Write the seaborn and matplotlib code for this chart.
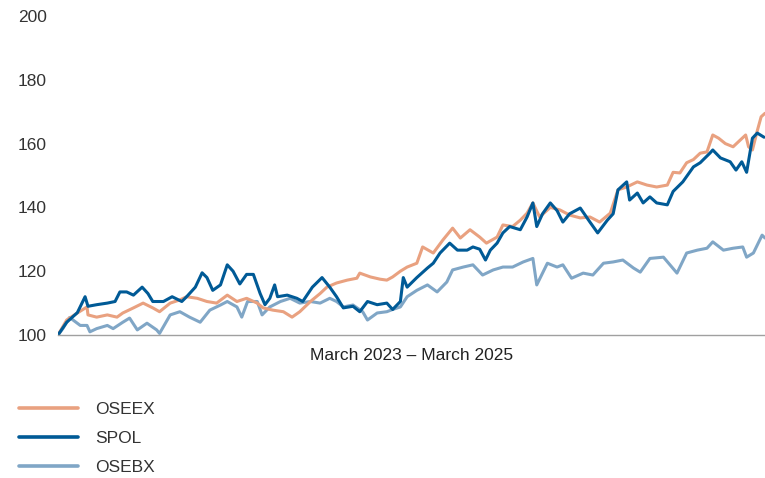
import pandas as pd
import numpy as np
import seaborn as sns
import matplotlib.pyplot as plt

# Indexed performance, start = 100 (days since start of March 2023)
oseex_days = [0, 9, 20, 30, 31, 40, 51, 61, 67, 78,
              88, 98, 105, 116, 126, 133, 144, 154, 164, 175,
              185, 195, 206, 212, 222, 233, 242, 250, 261, 271,
              278, 288, 299, 309, 312, 323, 333, 340, 346, 354,
              361, 371, 377, 388, 398, 408, 416, 426, 436, 443,
              454, 460, 470, 478, 485, 491, 498, 509, 519, 529,
              540, 550, 560, 571, 579, 588, 599, 609, 619, 630,
              636, 643, 650, 657, 664, 671, 677, 683, 690, 698,
              705, 711, 714, 718, 723, 727, 731]
oseex_vals = [100, 104.7, 106.9, 108.8, 106.3, 105.6, 106.3, 105.6, 106.9, 108.5,
              110, 108.5, 107.3, 110, 111, 112, 111.5, 110.5, 110, 112.5,
              110.5, 111.5, 110, 108.5, 107.8, 107.3, 105.6, 107.3, 110.5, 113,
              115, 116.3, 117.2, 117.8, 119.4, 118.2, 117.5, 117.2, 118.2, 120,
              121.3, 122.5, 127.6, 125.7, 129.8, 133.5, 130.4, 133, 130.7, 128.8,
              130.7, 134.5, 134, 136, 138.2, 141.4, 137, 140, 139.2, 137.6,
              136.7, 137, 135.4, 138.2, 145.5, 146.4, 148, 147, 146.4, 147,
              151, 150.8, 154, 155, 157, 157.4, 162.7, 161.7, 160, 159,
              161, 162.7, 159, 158, 164, 168.4, 169.5]

spol_days = [0, 9, 20, 28, 31, 40, 51, 59, 64, 71,
             78, 87, 93, 98, 109, 118, 128, 133, 142, 149,
             154, 160, 168, 175, 181, 188, 195, 202, 209, 214,
             219, 224, 227, 237, 247, 253, 263, 273, 281, 288,
             295, 305, 312, 320, 330, 340, 346, 354, 357, 361,
             371, 382, 388, 395, 405, 413, 423, 429, 436, 442,
             447, 454, 460, 467, 478, 485, 491, 495, 501, 509,
             516, 522, 529, 540, 550, 558, 568, 574, 579, 588,
             591, 599, 605, 612, 619, 630, 636, 646, 657, 664,
             674, 677, 685, 695, 701, 707, 712, 718, 723, 730]
spol_vals = [100, 104, 107, 112, 109, 109.5, 110, 110.5, 113.5, 113.5,
             112.5, 115, 113, 110.5, 110.5, 112, 110.5, 112, 115, 119.5,
             118, 114, 115.7, 122, 120, 116, 119, 119, 113, 109.5,
             111.5, 115.7, 112, 112.5, 111.5, 110.5, 115, 118, 115, 112,
             108.5, 109, 107.3, 110.5, 109.5, 110, 108, 110.5, 118, 115,
             118, 121, 122.5, 125.7, 128.8, 126.6, 126.6, 127.6, 126.9, 123.5,
             126.6, 128.8, 132, 134, 133, 137, 141.4, 134, 138, 141.4,
             139, 135.4, 138, 139.8, 135.4, 132, 136, 138, 145.5, 148,
             142.3, 144.5, 141.4, 143.3, 141.4, 140.8, 145, 148, 152.7, 154,
             157, 158, 155.5, 154.3, 151.7, 154.3, 151, 161.7, 163.3, 162]

osebx_days = [0, 5, 12, 23, 30, 33, 40, 51, 57, 67,
              74, 82, 92, 102, 105, 116, 126, 136, 147, 157,
              168, 175, 185, 190, 196, 206, 211, 219, 230, 240,
              250, 261, 271, 281, 288, 295, 305, 315, 320, 330,
              340, 346, 354, 361, 371, 382, 392, 402, 408, 419,
              429, 439, 450, 460, 470, 481, 491, 495, 506, 516,
              522, 531, 543, 553, 564, 574, 584, 595, 602, 612,
              626, 640, 650, 661, 671, 677, 688, 698, 708, 712,
              719, 728, 731]
osebx_vals = [100, 102, 105.5, 103, 103, 101, 102, 103, 102, 104,
              105.3, 101.6, 103.7, 101.6, 100.5, 106.3, 107.3, 105.6, 104, 107.8,
              109.4, 110.5, 108.8, 105.6, 110.5, 110.5, 106.3, 108.8, 110.5, 111.5,
              110, 110.5, 110, 111.5, 110.5, 108.8, 109.4, 107.3, 104.7, 106.9,
              107.3, 108, 108.8, 112, 114, 115.7, 113.5, 116.6, 120.4, 121.3,
              122, 118.8, 120.4, 121.3, 121.3, 122.9, 124, 115.7, 122.5, 121.3,
              122, 117.8, 119.4, 118.8, 122.5, 122.9, 123.5, 121, 119.7, 124,
              124.4, 119.4, 125.7, 126.6, 127.2, 129.2, 126.6, 127.2, 127.6, 124.4,
              125.7, 131.3, 130.4]

series_names = ["OSEEX", "SPOL", "OSEBX"]
colors = {"OSEEX": "#E9A180", "SPOL": "#005A96", "OSEBX": "#80A6C6"}

# Long-form table for seaborn
frames = []
for name, days, vals in [("OSEBX", osebx_days, osebx_vals),
                         ("OSEEX", oseex_days, oseex_vals),
                         ("SPOL", spol_days, spol_vals)]:
    frames.append(pd.DataFrame({"day": days, "value": vals, "index": name}))
df = pd.concat(frames, ignore_index=True)

sns.set_theme(style="white")
plt.rcParams['font.family'] = ['Liberation Sans', 'DejaVu Sans']

fig = plt.figure(figsize=(7.65, 4.78), dpi=100)
ax = fig.add_axes([58 / 765, 143 / 478, 707 / 765, 319 / 478])

sns.lineplot(data=df, x="day", y="value", hue="index", palette=colors,
             hue_order=["OSEBX", "OSEEX", "SPOL"], linewidth=2.2,
             legend=False, ax=ax)

ax.set_xlim(0, 731)
ax.set_ylim(100, 200)
ax.set_yticks([100, 120, 140, 160, 180, 200])
ax.set_xticks([])
ax.tick_params(axis='y', length=0, labelsize=12.5, labelcolor='#333333', pad=8)
for side in ['top', 'right', 'left']:
    ax.spines[side].set_visible(False)
ax.spines['bottom'].set_color('#A0A0A0')
ax.spines['bottom'].set_linewidth(1.0)
ax.set_ylabel("")
ax.set_xlabel("March 2023 \u2013 March 2025", fontsize=12.5, color='#222222', labelpad=9)

# Legend below the chart
handles = [plt.Line2D([], [], color=colors[n], linewidth=2.6) for n in series_names]
fig.legend(handles, series_names, loc='upper left', bbox_to_anchor=(0.025, 0.16),
           frameon=False, fontsize=12.5, handlelength=3.4, handletextpad=1.0,
           labelspacing=0.8, borderaxespad=0, borderpad=0,
           labelcolor='#333333')

fig.savefig("out.png", dpi=100)
